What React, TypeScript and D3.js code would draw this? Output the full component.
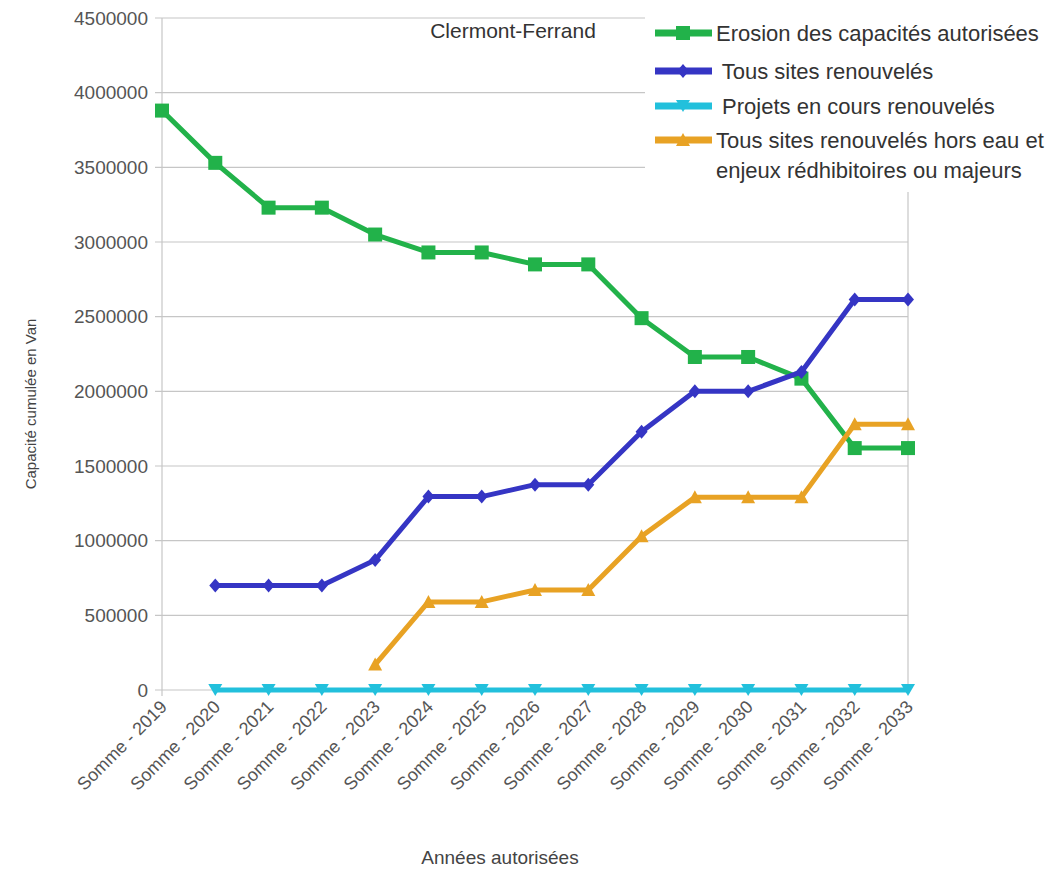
import React from "react";
import * as d3 from "d3";

const categories = [
  "Somme - 2019", "Somme - 2020", "Somme - 2021", "Somme - 2022", "Somme - 2023",
  "Somme - 2024", "Somme - 2025", "Somme - 2026", "Somme - 2027", "Somme - 2028",
  "Somme - 2029", "Somme - 2030", "Somme - 2031", "Somme - 2032", "Somme - 2033",
];
const erosion: (number | null)[] = [3880000, 3530000, 3230000, 3230000, 3050000, 2930000, 2930000, 2850000, 2850000, 2490000, 2230000, 2230000, 2085000, 1620000, 1620000];
const tousSites: (number | null)[] = [null, 700000, 700000, 700000, 870000, 1295000, 1295000, 1375000, 1375000, 1730000, 2000000, 2000000, 2130000, 2615000, 2615000];
const projetsEnCours: (number | null)[] = [null, 0, 0, 0, 0, 0, 0, 0, 0, 0, 0, 0, 0, 0, 0];
const horsEau: (number | null)[] = [null, null, null, null, 170000, 590000, 590000, 670000, 670000, 1030000, 1290000, 1290000, 1290000, 1780000, 1780000];
const yTicks = [0, 500000, 1000000, 1500000, 2000000, 2500000, 3000000, 3500000, 4000000, 4500000];

const series = [
  { name: "Erosion des capacités autorisées", values: erosion, color: "#22b24a", marker: "square" },
  { name: " Tous sites renouvelés", values: tousSites, color: "#3535c4", marker: "diamond" },
  { name: " Projets en cours renouvelés", values: projetsEnCours, color: "#22c0dc", marker: "down" },
  { name: "Tous sites renouvelés hors eau et|enjeux rédhibitoires ou majeurs", values: horsEau, color: "#e8a224", marker: "up" },
];

const W = 1058, H = 870;
const left = 162, right = 908, top = 18, bottom = 690;
const font = "'Liberation Sans', Arial, sans-serif";

function Marker({ type, x, y, color }: { type: string; x: number; y: number; color: string }) {
  if (type === "square") return <rect x={x - 7} y={y - 7} width={14} height={14} fill={color} />;
  if (type === "diamond") return <path d={`M${x},${y - 7}L${x + 6},${y}L${x},${y + 7}L${x - 6},${y}Z`} fill={color} />;
  if (type === "down") return <path d={`M${x - 7},${y - 6}L${x + 7},${y - 6}L${x},${y + 6}Z`} fill={color} />;
  return <path d={`M${x - 7},${y + 6}L${x + 7},${y + 6}L${x},${y - 7}Z`} fill={color} />;
}

export default function App() {
  const x = d3.scalePoint<string>().domain(categories).range([left, right]);
  const y = d3.scaleLinear().domain([0, 4500000]).range([bottom, top]);
  const line = d3.line<{ c: string; v: number | null }>()
    .defined((d) => d.v !== null)
    .x((d) => x(d.c) as number)
    .y((d) => y(d.v as number));

  return (
    <svg width={W} height={H} style={{ position: "absolute", left: 0, top: 0, background: "#fff" }}>
      <rect width={W} height={H} fill="#fff" />
      {/* grid */}
      {yTicks.map((t) => (
        <g key={t}>
          <line x1={left - 7} x2={right} y1={y(t)} y2={y(t)} stroke="#c6c6c6" strokeWidth={1.2} />
          <text x={148} y={y(t)} dy="0.35em" textAnchor="end" fontFamily={font} fontSize={19} fill="#555">{t}</text>
        </g>
      ))}
      <line x1={left} x2={left} y1={top} y2={bottom + 6} stroke="#c6c6c6" strokeWidth={1.2} />
      <line x1={right} x2={right} y1={top} y2={bottom} stroke="#c6c6c6" strokeWidth={1.2} />
      {/* x labels */}
      {categories.map((c) => (
        <text key={c} transform={`translate(${(x(c) as number) + 6},${bottom + 18}) rotate(-45)`} textAnchor="end"
          fontFamily={font} fontSize={18} fill="#555">{c}</text>
      ))}
      <text x={500} y={864} textAnchor="middle" fontFamily={font} fontSize={19} fill="#444">Années autorisées</text>
      <text transform={`translate(36,404) rotate(-90)`} textAnchor="middle" fontFamily={font} fontSize={15} fill="#444">Capacité cumulée en Van</text>
      <text x={513} y={38} textAnchor="middle" fontFamily={font} fontSize={21} fill="#333">Clermont-Ferrand</text>
      {/* series */}
      {series.map((s) => {
        const pts = categories.map((c, i) => ({ c, v: s.values[i] }));
        return (
          <g key={s.name}>
            <path d={line(pts) || ""} fill="none" stroke={s.color} strokeWidth={5} strokeLinejoin="round" />
            {pts.filter((p) => p.v !== null).map((p) => (
              <Marker key={p.c} type={s.marker} x={x(p.c) as number} y={y(p.v as number)} color={s.color} />
            ))}
          </g>
        );
      })}
      {/* legend */}
      <rect x={645} y={0} width={413} height={192} fill="#fff" />
      {series.map((s, i) => {
        const ly = [33, 71, 106, 140][i];
        const lines = s.name.split("|");
        return (
          <g key={s.name}>
            <line x1={655} x2={712} y1={ly} y2={ly} stroke={s.color} strokeWidth={7} />
            <Marker type={s.marker} x={683} y={ly} color={s.color} />
            {lines.map((t, j) => (
              <text key={j} x={716} y={ly + j * 30} dy="0.35em" fontFamily={font} fontSize={22} fill="#333" style={{ whiteSpace: "pre" }}>{t}</text>
            ))}
          </g>
        );
      })}
    </svg>
  );
}
